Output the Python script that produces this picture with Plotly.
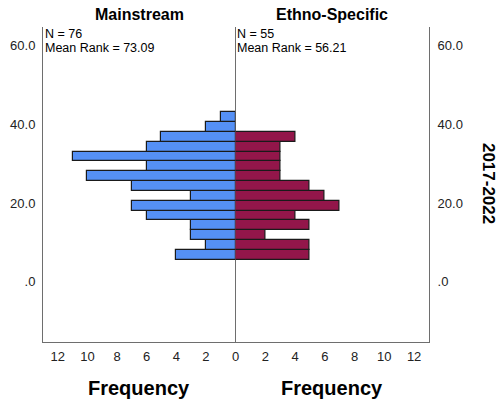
import plotly.graph_objects as go

# Data
bin_width = 2.5
bin_starts = [5.6, 8.1, 10.6, 13.1, 15.6, 18.1, 20.6, 23.1, 25.6, 28.1, 30.6, 33.1, 35.6, 38.1, 40.6]
mainstream_counts = [4, 2, 3, 3, 6, 7, 3, 7, 10, 6, 11, 6, 5, 2, 1]
ethno_counts = [5, 5, 2, 5, 4, 7, 6, 5, 3, 3, 3, 3, 4, 0, 0]
group_titles = ["Mainstream", "Ethno-Specific"]
group_n = ["N = 76", "N = 55"]
group_mean_rank = ["Mean Rank = 73.09", "Mean Rank = 56.21"]
y_tickvals = [0, 20, 40, 60]
y_ticktext = [".0", "20.0", "40.0", "60.0"]
x_tickvals_left = [0, 2, 4, 6, 8, 10, 12]
x_tickvals_right = [2, 4, 6, 8, 10, 12]
period_label = "2017-2022"

centers = [s + bin_width / 2 for s in bin_starts]

FONT = "Liberation Sans, Arial, sans-serif"
BLUE = "#5590f5"
MAROON = "#93164a"
EDGE = "#1a1a1a"
AXIS = "#6e6e6e"

fig = go.Figure()
fig.add_trace(go.Bar(
    y=centers, x=mainstream_counts, orientation="h", width=bin_width,
    marker=dict(color=BLUE, line=dict(color=EDGE, width=1.2)),
    xaxis="x", yaxis="y", showlegend=False, hoverinfo="x+y"))
fig.add_trace(go.Bar(
    y=centers, x=ethno_counts, orientation="h", width=bin_width,
    marker=dict(color=MAROON, line=dict(color=EDGE, width=1.2)),
    xaxis="x2", yaxis="y2", showlegend=False, hoverinfo="x+y"))

split = 0.4987
yrange = [-15.3, 64.8]
tickfont = dict(family=FONT, size=13, color="#222222")

fig.update_layout(
    width=498, height=401,
    margin=dict(l=43, r=69, t=27, b=59, autoexpand=False),
    paper_bgcolor="white", plot_bgcolor="white",
    bargap=0,
    xaxis=dict(domain=[0, split], range=[13, 0], tickvals=x_tickvals_left,
               showgrid=False, zeroline=False, showline=True, linecolor=AXIS,
               linewidth=1, ticks="", tickfont=tickfont, anchor="y",
               automargin=False, ticklabelstandoff=2),
    xaxis2=dict(domain=[split, 1], range=[0, 13], tickvals=x_tickvals_right,
                showgrid=False, zeroline=False, showline=True, linecolor=AXIS,
                linewidth=1, ticks="", tickfont=tickfont, anchor="y2",
                automargin=False, ticklabelstandoff=2),
    yaxis=dict(range=yrange, tickvals=y_tickvals, ticktext=y_ticktext,
               showgrid=False, zeroline=False, showline=True, mirror=True,
               linecolor=AXIS, linewidth=1, ticks="", tickfont=tickfont,
               anchor="x", side="left", automargin=False, ticklabelstandoff=4),
    yaxis2=dict(range=yrange, tickvals=y_tickvals, ticktext=y_ticktext,
                showgrid=False, zeroline=False, showline=True,
                linecolor=AXIS, linewidth=1, ticks="", tickfont=tickfont,
                anchor="x2", side="right", automargin=False, ticklabelstandoff=5),
)

annotations = []
panel_centers = [split / 2, (1 + split) / 2]
for i in range(2):
    annotations.append(dict(
        text=f"<b>{group_titles[i]}</b>", x=panel_centers[i], y=1, xref="paper", yref="paper",
        yshift=13, showarrow=False, font=dict(family=FONT, size=16, color="black"),
        xanchor="center", yanchor="middle"))
    annotations.append(dict(
        text=group_n[i], x=[0, split][i], y=1, xref="paper", yref="paper",
        xshift=1, yshift=-6.5, showarrow=False, align="left", borderpad=0,
        font=dict(family=FONT, size=12.5, color="black"),
        xanchor="left", yanchor="middle"))
    annotations.append(dict(
        text=group_mean_rank[i], x=[0, split][i], y=1, xref="paper", yref="paper",
        xshift=1, yshift=-20.5, showarrow=False, align="left", borderpad=0,
        font=dict(family=FONT, size=12.5, color="black"),
        xanchor="left", yanchor="middle"))
    annotations.append(dict(
        text="<b>Frequency</b>", x=panel_centers[i], y=0, xref="paper", yref="paper",
        yshift=-46, showarrow=False, font=dict(family=FONT, size=20, color="black"),
        xanchor="center", yanchor="middle"))
annotations.append(dict(
    text=f"<b>{period_label}</b>", x=1, y=0.505, xref="paper", yref="paper",
    xshift=59, showarrow=False, textangle=90,
    font=dict(family=FONT, size=17, color="black"),
    xanchor="center", yanchor="middle"))
fig.update_layout(annotations=annotations)

fig.write_html("out.html", config={"displayModeBar": False},
               post_script="document.body.style.margin='0';")
